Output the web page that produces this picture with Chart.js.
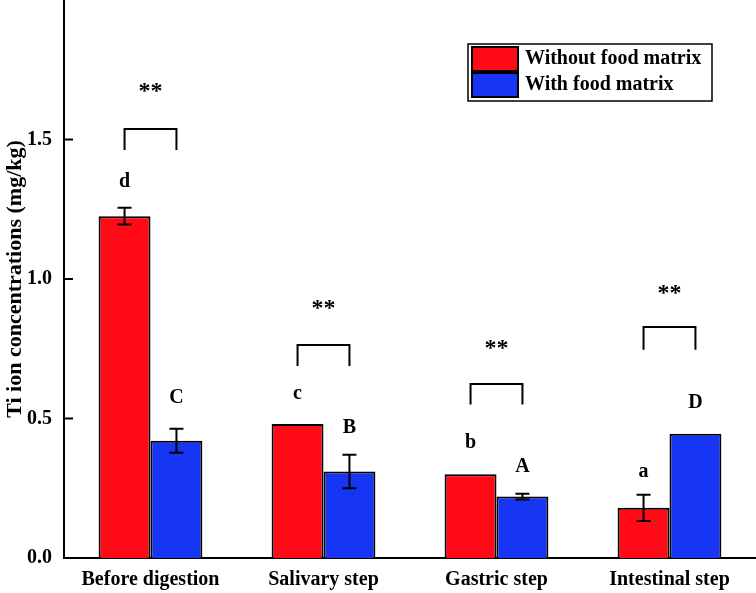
<!DOCTYPE html>
<html>
<head>
<meta charset="utf-8">
<script src="https://cdn.jsdelivr.net/npm/chart.js@4.4.1/dist/chart.umd.min.js"></script>
<style>
  html, body { margin: 0; padding: 0; background: #fff; }
  #wrap { width: 756px; height: 593px; }
</style>
</head>
<body>
<div id="wrap"><canvas id="chart"></canvas></div>
<script>
const steps = ['Before digestion', 'Salivary step', 'Gastric step', 'Intestinal step'];
const withoutFood = [1.225, 0.48, 0.30, 0.18];
const withoutFoodErr = [0.03, 0, 0, 0.047];
const withFood = [0.42, 0.31, 0.22, 0.445];
const withFoodErr = [0.043, 0.06, 0.01, 0];

// significance letters and their heights (mg/kg)
const withoutLetters = ['d', 'c', 'b', 'a'];
const withoutLetterY = [1.35, 0.588, 0.412, 0.308];
const withLetters = ['C', 'B', 'A', 'D'];
const withLetterY = [0.573, 0.466, 0.326, 0.556];

// ** brackets between the two bars of each step
const bracketTop = [1.538, 0.763, 0.624, 0.828];
const bracketFoot = [1.462, 0.688, 0.55, 0.746];
const starsY = [1.688, 0.91, 0.766, 0.964];

const FONT = '"Liberation Serif", "Times New Roman", serif';
const RED = '#ff0a16';
const BLUE = '#1636f4';

Chart.defaults.font.family = FONT;
Chart.defaults.color = '#000';

const marks = {
  id: 'marks',
  afterDatasetsDraw(chart) {
    const { ctx, scales: { x, y } } = chart;
    const errs = [withoutFoodErr, withFoodErr];
    const vals = [withoutFood, withFood];
    ctx.save();
    ctx.strokeStyle = '#000';
    ctx.lineWidth = 2;

    // error bars
    errs.forEach((errList, di) => {
      const meta = chart.getDatasetMeta(di);
      meta.data.forEach((bar, i) => {
        const e = errList[i];
        if (!e) return;
        const top = y.getPixelForValue(vals[di][i] + e);
        const bot = y.getPixelForValue(vals[di][i] - e);
        ctx.beginPath();
        ctx.moveTo(bar.x, top); ctx.lineTo(bar.x, bot);
        ctx.moveTo(bar.x - 7, top); ctx.lineTo(bar.x + 7, top);
        ctx.moveTo(bar.x - 7, bot); ctx.lineTo(bar.x + 7, bot);
        ctx.stroke();
      });
    });

    // inward y ticks
    y.ticks.forEach(t => {
      const py = y.getPixelForValue(t.value);
      ctx.beginPath();
      ctx.moveTo(x.left, py); ctx.lineTo(x.left + 9, py);
      ctx.stroke();
    });

    ctx.fillStyle = '#000';
    ctx.textAlign = 'center';
    ctx.textBaseline = 'middle';
    const m0 = chart.getDatasetMeta(0).data;
    const m1 = chart.getDatasetMeta(1).data;
    steps.forEach((s, i) => {
      ctx.font = 'bold 20px ' + FONT;
      ctx.fillText(withoutLetters[i], m0[i].x, y.getPixelForValue(withoutLetterY[i]));
      ctx.fillText(withLetters[i], m1[i].x, y.getPixelForValue(withLetterY[i]));

      const xa = m0[i].x, xb = m1[i].x;
      const yt = y.getPixelForValue(bracketTop[i]);
      const yf = y.getPixelForValue(bracketFoot[i]);
      ctx.beginPath();
      ctx.moveTo(xa, yf); ctx.lineTo(xa, yt); ctx.lineTo(xb, yt); ctx.lineTo(xb, yf);
      ctx.stroke();
      ctx.font = 'bold 24px ' + FONT;
      ctx.fillText('**', (xa + xb) / 2, y.getPixelForValue(starsY[i]) + 5);
    });

    // legend box
    const lx = 468, ly = 44, lw = 244, lh = 57;
    ctx.font = 'bold 20px ' + FONT;
    ctx.lineWidth = 1.5;
    ctx.strokeRect(lx, ly, lw, lh);
    chart.data.datasets.forEach((ds, di) => {
      const ry = ly + 3 + di * 26;
      ctx.fillStyle = ds.backgroundColor;
      ctx.fillRect(lx + 4, ry, 46, 24);
      ctx.lineWidth = 2;
      ctx.strokeRect(lx + 4, ry, 46, 24);
      ctx.fillStyle = '#000';
      ctx.textAlign = 'left';
      ctx.fillText(ds.label, lx + 57, ry + 12);
    });
    ctx.restore();
  }
};

new Chart(document.getElementById('chart'), {
  type: 'bar',
  data: {
    labels: steps,
    datasets: [
      { label: 'Without food matrix', data: withoutFood, backgroundColor: RED, borderColor: '#000', borderWidth: 2 },
      { label: 'With food matrix', data: withFood, backgroundColor: BLUE, borderColor: '#000', borderWidth: 2 }
    ]
  },
  options: {
    animation: false,
    responsive: true,
    maintainAspectRatio: false,
    layout: { padding: 0 },
    datasets: { bar: { categoryPercentage: 0.6, barPercentage: 1.0 } },
    plugins: { legend: { display: false }, tooltip: { enabled: false } },
    scales: {
      x: {
        grid: { display: false, drawTicks: false },
        border: { color: '#000', width: 2 },
        ticks: { padding: 10, font: { size: 20, weight: 'bold' } },
        afterFit: s => { s.height = 35; }
      },
      y: {
        min: 0,
        max: 2.0,
        grid: { display: false, drawTicks: false },
        border: { color: '#000', width: 2 },
        afterBuildTicks: s => { s.ticks = s.ticks.filter(t => t.value < 2); },
        ticks: { stepSize: 0.5, padding: 12, font: { size: 20, weight: 'bold' }, callback: v => v.toFixed(1) },
        title: { display: true, text: 'Ti ion concentrations (mg/kg)', font: { size: 22, weight: 'bold' }, padding: { top: 2, bottom: 0 } },
        afterFit: s => { s.width = 64; s.paddingTop = 0; s.paddingBottom = 0; }
      }
    }
  },
  plugins: [marks]
});
</script>
</body>
</html>
